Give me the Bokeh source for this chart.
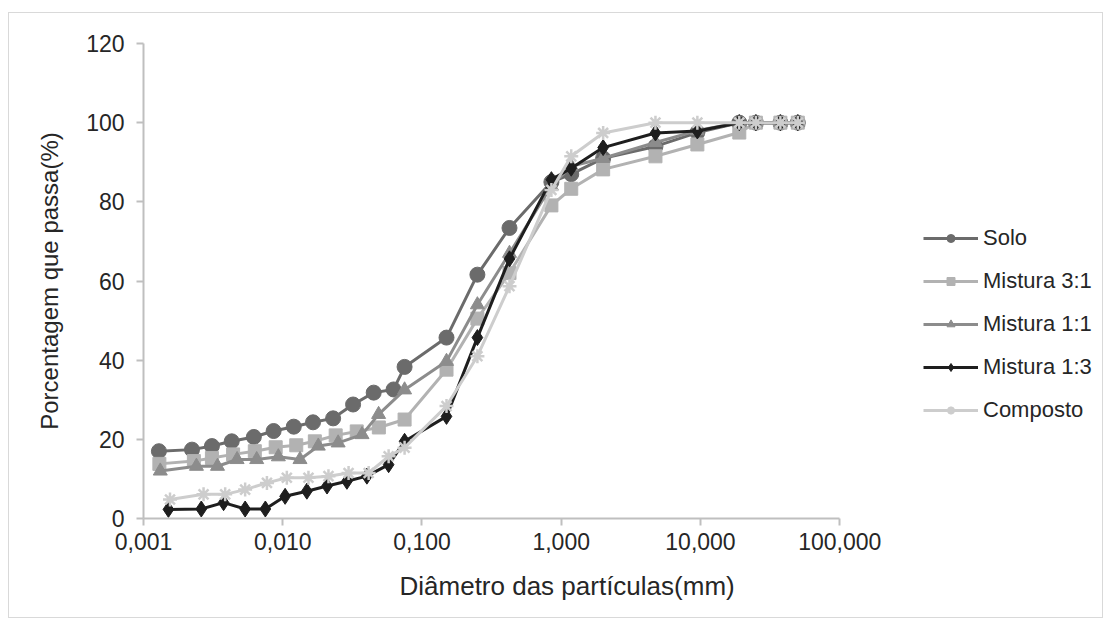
from bokeh.plotting import figure
from bokeh.models import Range1d, FixedTicker, Legend, LegendItem, LogAxis, LogScale, Title
from bokeh.embed import file_html
from bokeh.resources import INLINE

# ---- data ----
sieves = [0.075, 0.15, 0.25, 0.425, 0.85, 1.18, 2.0, 4.75, 9.5, 19.0, 25.0, 37.5, 50.0]

solo_d = [0.00129, 0.00223, 0.0031, 0.0043, 0.0062, 0.0086, 0.012, 0.0165, 0.023, 0.032, 0.045, 0.0625] + sieves
solo_v = [17.0, 17.4, 18.3, 19.5, 20.6, 22.1, 23.2, 24.3, 25.3, 28.8, 31.8, 32.6,
          38.3, 45.7, 61.6, 73.4, 85.0, 87.0, 91.0, 94.0, 97.5, 100, 100, 100, 100]

m31_d = [0.0013, 0.0023, 0.0031, 0.0044, 0.0063, 0.0089, 0.0125, 0.017, 0.024, 0.034, 0.049] + sieves
m31_v = [13.8, 14.5, 15.3, 16.2, 17.0, 18.0, 18.5, 19.5, 21.0, 22.0, 23.0,
         25.0, 37.6, 50.5, 62.0, 79.1, 83.3, 88.2, 91.5, 94.5, 97.5, 100, 100, 100]

m11_d = [0.00132, 0.0024, 0.0034, 0.0047, 0.0065, 0.0093, 0.0133, 0.018, 0.025, 0.0371, 0.0488] + sieves
m11_v = [12.0, 13.2, 13.2, 14.9, 14.9, 15.6, 14.9, 18.3, 19.1, 21.2, 26.3,
         32.5, 39.7, 54.0, 67.0, 84.0, 89.0, 91.0, 95.0, 98.0, 100, 100, 100, 100]

m13_d = [0.00151, 0.0026, 0.00376, 0.00537, 0.0075, 0.0104, 0.0149, 0.0208, 0.0289, 0.0402, 0.0576] + sieves
m13_v = [2.3, 2.4, 4.0, 2.4, 2.4, 5.6, 6.9, 8.2, 9.4, 10.7, 13.6,
         19.5, 25.8, 45.7, 65.6, 85.6, 88.5, 93.7, 97.4, 97.9, 100, 100, 100, 100]

comp_d = [0.00155, 0.0027, 0.00386, 0.00537, 0.0077, 0.0107, 0.0153, 0.0213, 0.0297, 0.0414, 0.0576] + sieves
comp_v = [4.8, 6.1, 6.1, 7.3, 9.0, 10.3, 10.3, 10.7, 11.5, 11.5, 15.7,
          17.9, 28.4, 41.0, 58.7, 83.0, 91.5, 97.4, 100, 100, 100, 100, 100, 100]

x_ticks = [0.001, 0.01, 0.1, 1.0, 10.0, 100.0]
x_tick_labels = ["0,001", "0,010", "0,100", "1,000", "10,000", "100,000"]
y_ticks = [0, 20, 40, 60, 80, 100, 120]

series = [
    ("Solo", solo_d, solo_v, "#6b6b6b", "circle", 15),
    ("Mistura 3:1", m31_d, m31_v, "#b2b2b2", "square", 13),
    ("Mistura 1:1", m11_d, m11_v, "#8c8c8c", "triangle", 14),
    ("Mistura 1:3", m13_d, m13_v, "#1e1e1e", "diamond", 16),
    ("Composto", comp_d, comp_v, "#cdcdcd", "asterisk", 14),
]

FONT = "Liberation Sans"

# layout: plotting frame spans past the axis end so the legend can sit inside it
DECADE_PX = 139.2          # pixels per decade on the x axis
AXIS_END_PX = 839.3
FRAME_RIGHT_PX = 1099.0
x_end = x_ticks[-1] * 10 ** ((FRAME_RIGHT_PX - AXIS_END_PX) / DECADE_PX)

p = figure(width=1095, height=606, output_backend="svg", toolbar_location=None,
           x_axis_type=None, y_axis_location="left",
           x_range=Range1d(x_ticks[0], x_end), y_range=Range1d(0, 120),
           min_border_left=134, min_border_top=30, min_border_bottom=101, min_border_right=5)
p.styles = {"border": "1px solid #d9d9d9", "margin-left": "8px", "margin-top": "12px"}
p.x_scale = LogScale()
p.outline_line_color = None
p.grid.visible = False

xaxis = LogAxis(ticker=FixedTicker(ticks=x_ticks), bounds=(x_ticks[0], x_ticks[-1]))
xaxis.major_label_overrides = {t: l for t, l in zip(x_ticks, x_tick_labels)}
p.add_layout(xaxis, "below")

for ax in [xaxis, p.yaxis[0]]:
    ax.axis_line_color = "#bfbfbf"
    ax.axis_line_width = 2
    ax.major_tick_line_color = "#bfbfbf"
    ax.major_tick_line_width = 2
    ax.minor_tick_line_color = None
    ax.major_tick_in = 0
    ax.major_tick_out = 7
    ax.major_label_text_font = FONT
    ax.major_label_text_font_size = "23px"
    ax.major_label_text_color = "#262626"
    ax.axis_label_text_font = FONT
    ax.axis_label_text_font_size = "24px"
    ax.axis_label_text_font_style = "normal"
    ax.axis_label_text_color = "#262626"

p.yaxis.ticker = FixedTicker(ticks=y_ticks)
p.yaxis.axis_label = "Porcentagem que passa(%)"
p.yaxis.major_label_standoff = 12
p.yaxis.axis_label_standoff = 20
xaxis.major_label_standoff = 7

xtitle = Title(text="Diâmetro das partículas(mm)", align="left", offset=256, standoff=33,
               text_font=FONT, text_font_size="26px", text_font_style="normal",
               text_color="#262626")
p.add_layout(xtitle, "below")

items = []
for name, d, v, col, mk, sz in series:
    r1 = p.line(d, v, line_color=col, line_width=3)
    if mk == "asterisk":
        r2 = p.scatter(d, v, marker=mk, size=sz, line_color=col, line_width=2.5)
    else:
        r2 = p.scatter(d, v, marker=mk, size=sz, fill_color=col, line_color=col)
    items.append(LegendItem(label=name, renderers=[r1, r2]))

legend = Legend(items=items, location=(780, 95), padding=0, spacing=17, margin=0,
                glyph_width=55, glyph_height=20, label_height=20, label_standoff=5,
                label_text_font=FONT, label_text_font_size="22px",
                label_text_color="#262626", border_line_color=None,
                background_fill_alpha=0)
p.add_layout(legend, "center")

open("out.html", "w").write(file_html(p, INLINE))
